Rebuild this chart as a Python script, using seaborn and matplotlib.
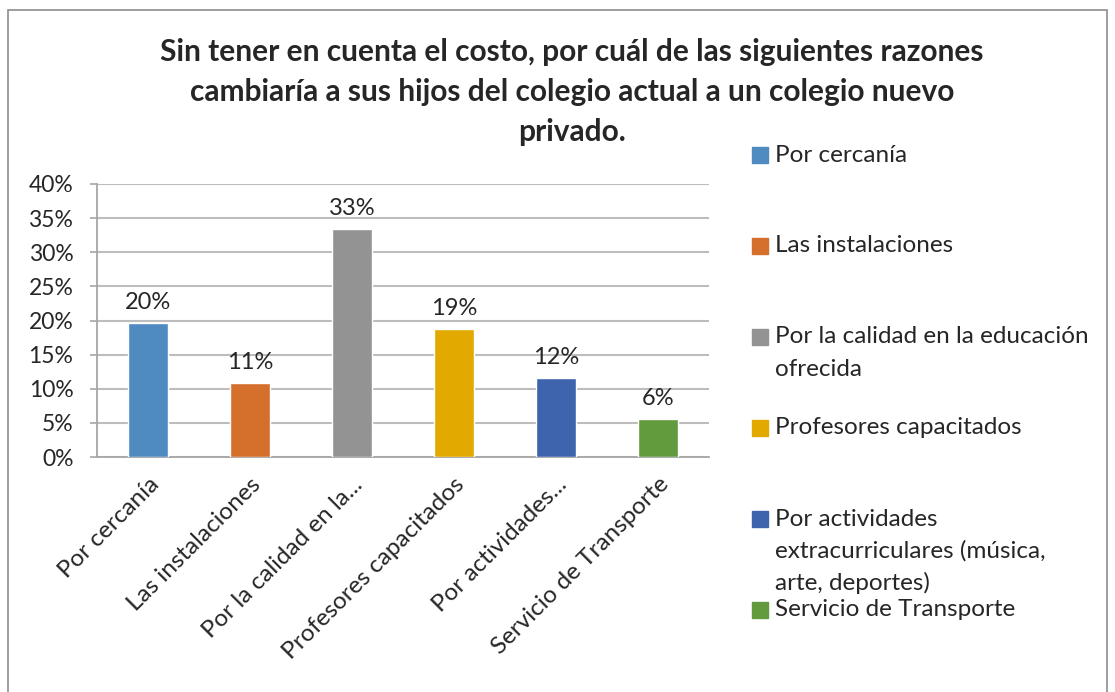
import matplotlib
matplotlib.use("Agg")
import matplotlib.pyplot as plt
import seaborn as sns
import pandas as pd
from matplotlib.patches import Rectangle

# === Data ===
categories = [
    "Por cercanía",
    "Las instalaciones",
    "Por la calidad en la educación ofrecida",
    "Profesores capacitados",
    "Por actividades extracurriculares (música, arte, deportes)",
    "Servicio de Transporte",
]
tick_labels = [
    "Por cercanía",
    "Las instalaciones",
    "Por la calidad en la...",
    "Profesores capacitados",
    "Por actividades...",
    "Servicio de Transporte",
]
legend_labels = [
    "Por cercanía",
    "Las instalaciones",
    "Por la calidad en la educación\nofrecida",
    "Profesores capacitados",
    "Por actividades\nextracurriculares (música,\narte, deportes)",
    "Servicio de Transporte",
]
values = [19.7, 10.9, 33.4, 18.8, 11.6, 5.6]
colors = ["#4F8BC0", "#D46F2C", "#939393", "#E2A900", "#3D64AD", "#629A3E"]

df = pd.DataFrame({"cat": categories, "val": values})

# === Style ===
sns.set_style("white")
plt.rcParams["font.family"] = ["Lato", "DejaVu Sans"]

W, H = 1115, 692
fig = plt.figure(figsize=(W / 100, H / 100), dpi=100)

# chart border
fig.patches.append(Rectangle((8 / W, -0.01), (1107 - 8) / W, 1 - 10 / H + 0.01,
                             transform=fig.transFigure, fill=False,
                             edgecolor="#8C8C8C", lw=1.2))

ax = fig.add_axes([97 / W, 1 - 457 / H, (709 - 97) / W, (457 - 184) / H])

sns.barplot(data=df, x="cat", y="val", hue="cat", palette=colors,
            legend=False, width=0.4, saturation=1, ax=ax, zorder=3)

# === Axes ===
ax.set_ylim(0, 40)
ax.set_xlim(-0.5, len(categories) - 0.5)
ax.set_yticks(range(0, 45, 5))
ax.set_yticklabels([f"{t}%" for t in range(0, 45, 5)], fontsize=16.5)
ax.set_xticks(range(len(categories)))
ax.set_xticklabels(tick_labels, rotation=45, ha="right",
                   rotation_mode="anchor", fontsize=17.5)
ax.set_xlabel("")
ax.set_ylabel("")
ax.yaxis.grid(True, color="#BDBDBD", lw=1.5, zorder=0)
ax.set_axisbelow(True)

for s in ["top", "right"]:
    ax.spines[s].set_visible(False)
for s in ["left", "bottom"]:
    ax.spines[s].set_color("#A6A6A6")
    ax.spines[s].set_linewidth(1.3)

ax.set_xticks([i - 0.5 for i in range(len(categories) + 1)], minor=True)
ax.tick_params(axis="x", which="major", length=0, pad=12)
ax.tick_params(axis="x", which="minor", length=6, color="#A6A6A6", width=1.2)
ax.tick_params(axis="y", length=5, color="#A6A6A6", width=1.2, left=True, pad=12)

# data labels
for i, v in enumerate(values):
    ax.annotate(f"{round(v):d}%", (i, v), xytext=(0, 7), textcoords="offset points",
                ha="center", va="bottom", fontsize=17)

# === Title ===
fig.text(572 / W, 1 - 92 / H,
         "Sin tener en cuenta el costo, por cuál de las siguientes razones\n"
         "cambiaría a sus hijos del colegio actual a un colegio nuevo\nprivado.",
         ha="center", va="center", fontsize=21.5, fontweight="bold", linespacing=1.5)

# === Legend (manual, Excel-like spacing) ===
for i, (lab, col) in enumerate(zip(legend_labels, colors)):
    y0 = 155 + i * 91
    fig.patches.append(Rectangle((752 / W, 1 - (y0 + 8) / H), 16 / W, 16 / H,
                                 transform=fig.transFigure, color=col))
    for j, line in enumerate(lab.split("\n")):
        fig.text(775 / W, 1 - (y0 + j * 32) / H, line, ha="left", va="center",
                 fontsize=17.5)

plt.savefig("out.png", dpi=100)
plt.close()
